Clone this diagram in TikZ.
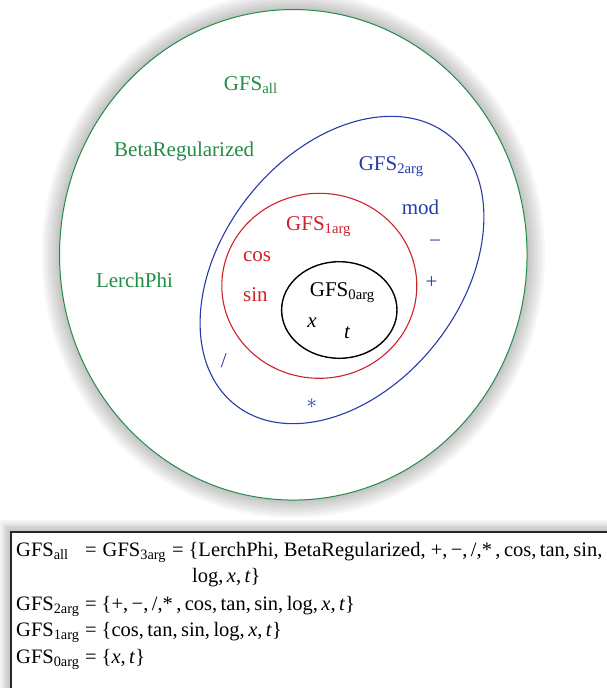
\documentclass[tikz,border=0pt]{standalone}
\usepackage{fontspec}
\setmainfont{Liberation Serif}
\usetikzlibrary{shapes.geometric}
\definecolor{gfsgreen}{RGB}{35,140,70}
\definecolor{gfsblue}{RGB}{40,60,165}
\definecolor{gfsred}{RGB}{205,35,45}
\newcommand{\gfs}[1]{GFS\textsubscript{#1}}

\begin{document}
\begin{tikzpicture}
[x=1pt,y=-1pt,
setall/.style={ellipse, draw=gfsgreen, line width=1pt, fill=white,
inner sep=0pt, minimum width=467.5pt, minimum height=490.5pt},
settwo/.style={ellipse, draw=gfsblue, line width=1.1pt,
inner sep=0pt, minimum width=344pt, minimum height=238pt},
setone/.style={ellipse, draw=gfsred, line width=1.1pt,
inner sep=0pt, minimum width=195pt, minimum height=185pt},
setzero/.style={ellipse, draw=black, line width=1.4pt,
inner sep=0pt, minimum width=115.4pt, minimum height=96.6pt},
lab/.style={font=\fontsize{21}{25}\selectfont, inner sep=0pt, anchor=base west},
sym/.style={font=\fontsize{21}{25}\selectfont, inner sep=0pt},
row/.style={font=\fontsize{20.5}{25}\selectfont, inner sep=0pt, anchor=base west},
defbox/.style={rectangle, draw=black!85, line width=1.5pt, fill=white,
anchor=north west, minimum width=640pt, minimum height=200pt},
halo/.style={fill=black, opacity=0.028}]
\useasboundingbox (0,0) rectangle (607,688);
% soft shadows
\foreach \g in {1,...,9}
  \fill[halo] ({10-\g*1.2},{531-\g*1.2}) rectangle (660,740);
\node[defbox] (defs) at (10,531) {};
\foreach \g in {1,...,9}
  \fill[halo] (293.3,254.8) ellipse [x radius=233.75pt+\g*2pt, y radius=245.25pt+\g*2pt];
% the sets
\node[setall]             (all)  at (293.3,254.8) {};
\node[settwo, rotate=51.5] (two)  at (342,270) {};
\node[setone]             (one)  at (319.3,285.8) {};
\node[setzero]            (zero) at (339.3,310) {};
% GFS_all
\node[lab, text=gfsgreen] (lall)   at (223.7,90)    {\gfs{all}};
\node[lab, text=gfsgreen] (lbeta)  at (114,156)     {BetaRegularized};
\node[lab, text=gfsgreen] (llerch) at (95.8,287.3)  {LerchPhi};
% GFS_2arg
\node[lab, text=gfsblue]  (ltwo)   at (358.6,170)   {\gfs{2arg}};
\node[lab, text=gfsblue]  (lmod)   at (401.6,214.3) {mod};
\node[sym, text=gfsblue]  (lminus) at (435,243.3)   {−};
\node[sym, text=gfsblue]  (lplus)  at (431.5,282.7) {+};
\node[sym, text=gfsblue]  (ldiv)   at (223.7,361)   {/};
\node[sym, text=gfsblue]  (ltimes) at (311.7,403.3) {$\ast$};
% GFS_1arg
\node[lab, text=gfsred]   (lone)   at (286,230.7)   {\gfs{1arg}};
\node[lab, text=gfsred]   (lcos)   at (242.9,261.7) {cos};
\node[lab, text=gfsred]   (lsin)   at (242.9,301.7) {sin};
% GFS_0arg
\node[lab]                (lzero)  at (309.7,296.7) {\gfs{0arg}};
\node[sym, anchor=base]   (lx)     at (312,327.3)   {\textit{x}};
\node[sym, anchor=base]   (lt)     at (347.3,338.3) {\textit{t}};
% definitions
\node[row] (rall)  at (16,556)  {\gfs{all}};
\node[row] (eall)  at (85,556)  {=\hspace{6pt}\gfs{3arg}\hspace{6pt}=\hspace{5pt}\{LerchPhi, BetaRegularized, +,\,−,\,/,*\,,\,cos,\,tan,\,sin,};
\node[row] (eall2) at (192,582.5) {log,\,\textit{x},\,\textit{t}\}};
\node[row] (rtwo)  at (16,610)    {\gfs{2arg}};
\node[row] (etwo)  at (85,610)    {=\hspace{5pt}\{+,\,−,\,/,*\,,\,cos,\,tan,\,sin,\,log,\,\textit{x},\,\textit{t}\}};
\node[row] (rone)  at (16,636.5)  {\gfs{1arg}};
\node[row] (eone)  at (85,636.5)  {=\hspace{5pt}\{cos,\,tan,\,sin,\,log,\,\textit{x},\,\textit{t}\}};
\node[row] (rzero) at (16,663)    {\gfs{0arg}};
\node[row] (ezero) at (85,663)    {=\hspace{5pt}\{\textit{x},\,\textit{t}\}};
\end{tikzpicture}
\end{document}
